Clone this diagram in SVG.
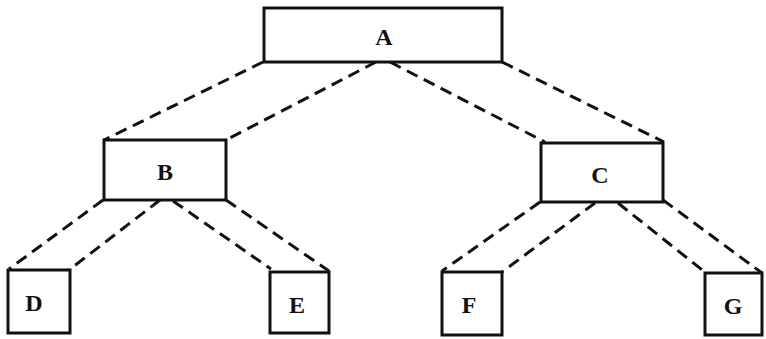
<svg xmlns="http://www.w3.org/2000/svg" width="766" height="339" viewBox="0 0 766 339">
<style>
.box{fill:#fff;stroke:#111;stroke-width:3}
.lbl{font-family:"Liberation Serif",serif;font-weight:bold;font-size:24px;fill:#111;text-anchor:middle;dominant-baseline:central}
.dash{stroke:#111;stroke-width:3;stroke-dasharray:12 7;fill:none}
</style>
<rect width="766" height="339" fill="#fff"/>
<g id="connectors">
<line class="dash" x1="263" y1="62" x2="104" y2="140"/>
<line class="dash" x1="376" y1="62" x2="226" y2="140"/>
<line class="dash" x1="390" y1="62" x2="545" y2="142"/>
<line class="dash" x1="502" y1="62" x2="664" y2="142"/>
<line class="dash" x1="103" y1="200" x2="9" y2="269"/>
<line class="dash" x1="160" y1="200" x2="69" y2="270"/>
<line class="dash" x1="173" y1="201" x2="271" y2="269"/>
<line class="dash" x1="226" y1="200" x2="329" y2="271"/>
<line class="dash" x1="540" y1="202" x2="442" y2="271"/>
<line class="dash" x1="595" y1="203" x2="502" y2="272"/>
<line class="dash" x1="618" y1="203" x2="706" y2="273"/>
<line class="dash" x1="663" y1="200" x2="762" y2="273"/>
</g>
<g id="A"><rect class="box" x="264" y="8" width="238" height="54"/><text class="lbl" x="384" y="37">A</text></g>
<g id="B"><rect class="box" x="104" y="140" width="122" height="60"/><text class="lbl" x="165" y="172">B</text></g>
<g id="C"><rect class="box" x="541" y="143" width="122" height="59"/><text class="lbl" x="600" y="175">C</text></g>
<g id="D"><rect class="box" x="8" y="270" width="62" height="63"/><text class="lbl" x="34" y="303">D</text></g>
<g id="E"><rect class="box" x="270" y="272" width="59" height="61"/><text class="lbl" x="297" y="305">E</text></g>
<g id="F"><rect class="box" x="442" y="272" width="60" height="63"/><text class="lbl" x="469" y="305">F</text></g>
<g id="G"><rect class="box" x="705" y="273" width="57" height="62"/><text class="lbl" x="733" y="306">G</text></g>
</svg>
